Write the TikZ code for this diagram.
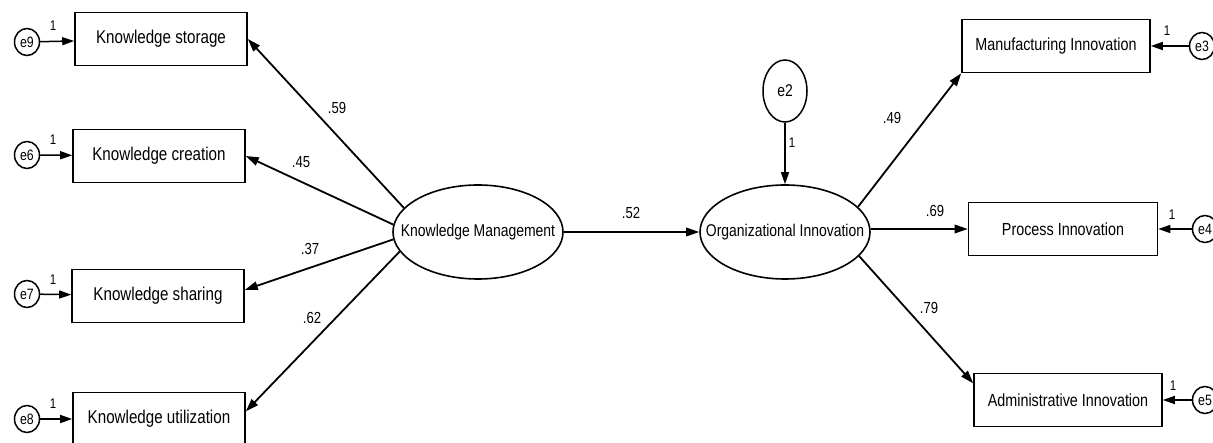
\documentclass[tikz,border=0pt]{standalone}
\usepackage{fontspec}
\setmainfont{Liberation Sans}
\newfontfamily\semfont[FakeStretch=0.82]{Liberation Sans}
\usetikzlibrary{positioning,arrows.meta,shapes.geometric}
\tikzset{
  semflow/.style={-{Triangle[length=13pt,width=8.5pt]},line width=1.8pt},
  errflow/.style={-{Triangle[length=12pt,width=8pt]},line width=1.5pt},
  obsbox/.style={draw,line width=1.6pt,minimum width=172pt,minimum height=53pt,
    inner sep=0pt,font=\semfont\fontsize{18.5}{19}\selectfont},
  latent/.style={ellipse,draw,line width=1.6pt,minimum width=170pt,minimum height=94pt,
    inner sep=0pt,font=\semfont\fontsize{17}{18}\selectfont},
  errnode/.style={ellipse,draw,line width=1.5pt,minimum width=25pt,minimum height=27pt,
    inner sep=0pt,font=\semfont\fontsize{15}{16}\selectfont},
  coef/.style={font=\semfont\fontsize{16}{17}\selectfont,inner sep=0pt},
  fixone/.style={font=\semfont\fontsize{14}{15}\selectfont,inner sep=0pt}
}
\begin{document}
\begin{tikzpicture}[x=1pt,y=-1pt]
  \useasboundingbox (0,0) rectangle (1213,443);
  \clip (0,0) rectangle (1213,443);
  \fill[white] (0,0) rectangle (1213,443);

  \node[latent] (km) at (478,232) {\makebox[0pt]{Knowledge Management}};
  \node[latent] (oi) at (785,232) {\makebox[0pt]{Organizational Innovation}};
  \node[errnode,minimum width=44pt,minimum height=62pt,font=\semfont\fontsize{17}{18}\selectfont] (e2) at (785,91) {e2};

  \node[obsbox] (storage) at (161,39) {Knowledge storage};
  \node[obsbox] (creation) at (159,156) {Knowledge creation};
  \node[obsbox] (sharing) at (158,296) {Knowledge sharing};
  \node[obsbox] (utilization) at (159,419) {Knowledge utilization};
  \node[errnode] (e9) at (27,42) {e9};
  \node[errnode] (e6) at (27,155) {e6};
  \node[errnode] (e7) at (27,294) {e7};
  \node[errnode] (e8) at (27,419) {e8};

  \node[obsbox,minimum width=188pt,font=\semfont\fontsize{17.5}{18}\selectfont] (manufacturing) at (1056,46) {Manufacturing Innovation};
  \node[obsbox,minimum width=189pt,font=\semfont\fontsize{17.5}{18}\selectfont] (process) at (1063,229) {Process Innovation};
  \node[obsbox,minimum width=188pt,font=\semfont\fontsize{17.5}{18}\selectfont] (administrative) at (1068,400) {Administrative Innovation};
  \node[errnode] (e3) at (1202,46) {e3};
  \node[errnode] (e4) at (1205,229) {e4};
  \node[errnode] (e5) at (1205,400) {e5};

  \draw[semflow] (km.162) -- (storage.east);
  \draw[semflow] (km.175) -- (creation.east);
  \draw[semflow] (km.185) -- (sharing.4);
  \draw[semflow] (km.194) -- (utilization.5);
  \draw[semflow] (km) -- (oi);
  \draw[semflow] (oi.19) -- (manufacturing.south west);
  \draw[semflow] (oi.2) -- (process.west);
  \draw[semflow] (oi.-18) -- (administrative.170);
  \draw[errflow,line width=1.2pt] (e2) -- (oi);

  \draw[errflow] (e9) -- (storage);
  \draw[errflow] (e6) -- (creation);
  \draw[errflow] (e7) -- (sharing);
  \draw[errflow] (e8) -- (utilization);
  \draw[errflow] (e3) -- (manufacturing);
  \draw[errflow] (e4) -- (process);
  \draw[errflow] (e5) -- (administrative);

  \node[coef] (l59) at (337,108) {.59};
  \node[coef] (l45) at (301,162) {.45};
  \node[coef] (l37) at (310,249) {.37};
  \node[coef] (l62) at (312,318) {.62};
  \node[coef] (l52) at (631,213) {.52};
  \node[coef] (l49) at (892,118) {.49};
  \node[coef] (l69) at (935,211) {.69};
  \node[coef] (l79) at (929,308) {.79};

  \node[fixone] (f9) at (53,26) {1};
  \node[fixone] (f6) at (53,140) {1};
  \node[fixone] (f7) at (53,280) {1};
  \node[fixone] (f8) at (53,404) {1};
  \node[fixone] (f2) at (792,143) {1};
  \node[fixone] (f3) at (1167,31) {1};
  \node[fixone] (f4) at (1172,215) {1};
  \node[fixone] (f5) at (1173,386) {1};
\end{tikzpicture}
\end{document}
